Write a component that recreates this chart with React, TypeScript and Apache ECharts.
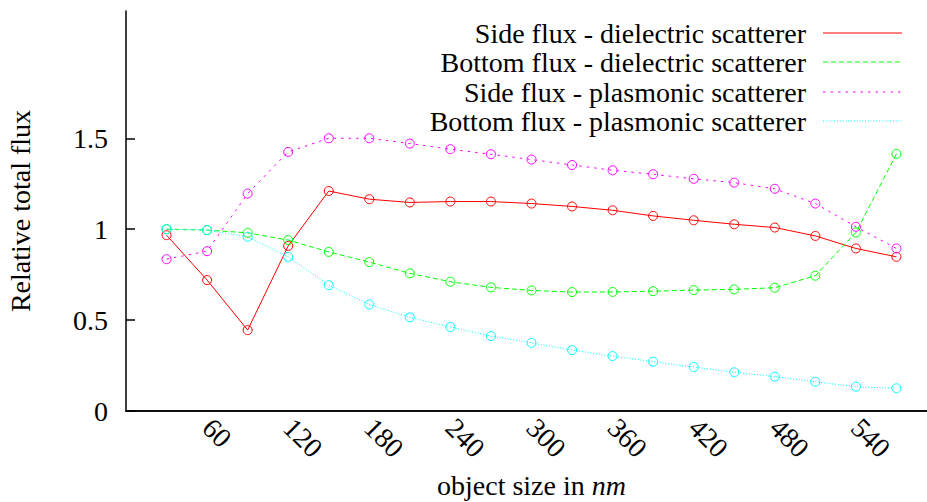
import React, { useEffect, useRef } from "react";
import * as echarts from "echarts";

const sizes = [30, 60, 90, 120, 150, 180, 210, 240, 270, 300, 330, 360, 390, 420, 450, 480, 510, 540, 570];
const sideDielectric = [0.967, 0.72, 0.445, 0.908, 1.21, 1.165, 1.147, 1.152, 1.152, 1.141, 1.125, 1.104, 1.073, 1.049, 1.027, 1.009, 0.963, 0.894, 0.848];
const bottomDielectric = [1.0, 0.995, 0.98, 0.94, 0.875, 0.819, 0.757, 0.711, 0.68, 0.663, 0.654, 0.655, 0.659, 0.665, 0.669, 0.678, 0.744, 0.982, 1.414];
const sidePlasmonic = [0.835, 0.879, 1.196, 1.425, 1.5, 1.5, 1.471, 1.44, 1.412, 1.383, 1.353, 1.324, 1.302, 1.277, 1.256, 1.222, 1.141, 1.013, 0.894];
const bottomPlasmonic = [1.0, 0.995, 0.958, 0.848, 0.692, 0.586, 0.515, 0.462, 0.412, 0.375, 0.335, 0.302, 0.271, 0.242, 0.213, 0.189, 0.161, 0.134, 0.125];
const xTicks = [60, 120, 180, 240, 300, 360, 420, 480, 540];
const yTicks = [0, 0.5, 1, 1.5];
const seriesNames = [
  "Side flux - dielectric scatterer",
  "Bottom flux - dielectric scatterer",
  "Side flux - plasmonic scatterer",
  "Bottom flux - plasmonic scatterer",
];

const FONT = "Liberation Serif";
const colors = ["#ff0000", "#00ff00", "#ff00ff", "#00ffff"];
const dashes: any[] = ["solid", [5, 3], [2.5, 5], [1, 1.8]];

export default function App() {
  const ref = useRef<HTMLDivElement>(null);
  useEffect(() => {
    if (!ref.current) return;
    document.body.style.margin = "0";
    const chart = echarts.init(ref.current, null, { renderer: "svg" });
    const allData = [sideDielectric, bottomDielectric, sidePlasmonic, bottomPlasmonic];
    const series = allData.map((arr, i) => ({
      name: seriesNames[i],
      type: "line",
      data: sizes.map((x, j) => [x, arr[j]]),
      symbol: "circle",
      symbolSize: 9,
      itemStyle: { color: "rgba(255,255,255,0)", borderColor: colors[i], borderWidth: 1 },
      lineStyle: { color: colors[i], width: 1, type: dashes[i] },
    }));
    const legendRowY = [33, 62, 92, 121];
    const graphics: any[] = [];
    seriesNames.forEach((n, i) => {
      graphics.push({
        type: "text",
        x: 806,
        y: legendRowY[i],
        style: {
          text: n,
          fontFamily: FONT,
          fontSize: 28,
          fill: "#000",
          align: "right",
          verticalAlign: "middle",
        },
      });
      const ls: any = { stroke: colors[i], lineWidth: 1 };
      if (dashes[i] !== "solid") ls.lineDash = dashes[i];
      graphics.push({
        type: "line",
        shape: { x1: 823, y1: legendRowY[i], x2: 902, y2: legendRowY[i] },
        style: ls,
      });
    });
    chart.setOption({
      animation: false,
      grid: { left: 126, top: 11, bottom: 91, right: -10, containLabel: false, outerBoundsMode: "none" },
      xAxis: [
        {
          type: "value",
          min: 0,
          max: 600,
          interval: 60,
          position: "bottom",
          axisLine: { show: true, onZero: false, lineStyle: { color: "#000", width: 1.5 } },
          axisTick: { show: false },
          splitLine: { show: false },
          axisLabel: {
            customValues: xTicks,
            rotate: -45,
            margin: 12,
            color: "#000",
            fontFamily: FONT,
            fontSize: 28,
          },
          name: "object size in {i|nm}",
          nameLocation: "middle",
          nameGap: 60,
          nameTextStyle: {
            color: "#000",
            fontFamily: FONT,
            fontSize: 28,
            rich: { i: { fontStyle: "italic", fontFamily: FONT, fontSize: 28, color: "#000" } },
          },
        },
        {
          type: "value",
          min: 0,
          max: 600,
          position: "top",
          axisLine: { show: true, lineStyle: { color: "#000", width: 1.5 } },
          axisTick: { show: false },
          axisLabel: { show: false },
          splitLine: { show: false },
        },
      ],
      yAxis: [
        {
          type: "value",
          min: 0,
          max: 2.2,
          interval: 0.5,
          axisLine: { show: true, onZero: false, lineStyle: { color: "#000", width: 1.5 } },
          axisTick: { show: true, inside: true, length: 9, customValues: yTicks, lineStyle: { color: "#000", width: 1.5 } },
          splitLine: { show: false },
          axisLabel: {
            customValues: yTicks,
            margin: 18,
            color: "#000",
            fontFamily: FONT,
            fontSize: 28,
          },
          name: "Relative total flux",
          nameLocation: "middle",
          nameGap: 92,
          nameTextStyle: { color: "#000", fontFamily: FONT, fontSize: 28 },
        },
      ],
      series,
      graphic: graphics,
    });
    return () => chart.dispose();
  }, []);
  return <div ref={ref} style={{ width: 927, height: 502 }} />;
}
